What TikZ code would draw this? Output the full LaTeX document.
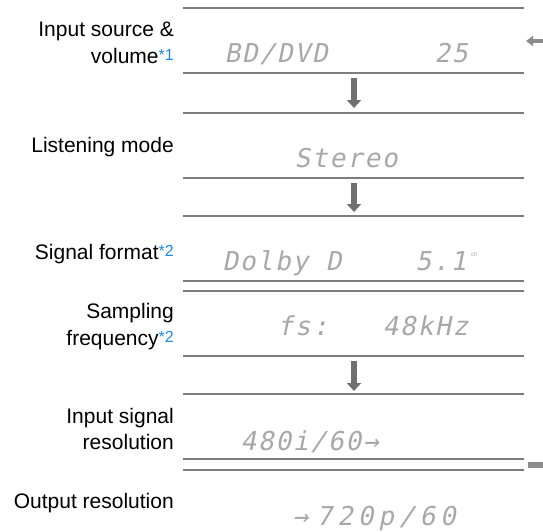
\documentclass[tikz,border=0pt]{standalone}
\usepackage{fontspec}
\setmainfont{Liberation Sans}
\newfontfamily\lcd[FakeSlant=0.2,LetterSpace=7.1]{DejaVu Sans Mono}
\usetikzlibrary{arrows.meta}
\definecolor{rulec}{RGB}{125,125,125}
\definecolor{arrc}{RGB}{112,112,112}
\definecolor{lcdc}{RGB}{168,168,168}
\definecolor{notec}{RGB}{25,135,245}
\definecolor{sidec}{RGB}{140,140,140}
\newcommand{\fnote}[1]{\textcolor{notec}{\raisebox{3pt}{\fontsize{16}{16}\selectfont *#1}}}
\begin{document}
\begin{tikzpicture}[x=1pt,y=-1pt,
  lbl/.style={anchor=base east, inner sep=0pt, font=\fontsize{21}{26}\selectfont},
  disp/.style={anchor=base west, inner sep=0pt, text=lcdc, font=\lcd\fontsize{26}{26}\selectfont},
  rulel/.style={draw=rulec, line width=1.4pt},
  downarrow/.style={draw=arrc, line width=5.5pt, -{Triangle[width=14pt,length=8pt]}},
  sidearrow/.style={draw=sidec, line width=4.5pt, -{Triangle[width=10pt,length=7pt]}}]
\useasboundingbox (0,0) rectangle (543,531);

% horizontal rules
\foreach \y in {8,73,113,178,216,281,291,356,394,459,470}
  \draw[rulel] (183,\y) -- (524,\y);

% labels
\node[lbl] (l1a) at (174,36) {Input source \&};
\node[lbl] (l1b) at (174,63) {volume\fnote{1}};
\node[lbl] (l2) at (174,152) {Listening mode};
\node[lbl] (l3) at (174,259) {Signal format\fnote{2}};
\node[lbl] (l4a) at (174,318) {Sampling};
\node[lbl] (l4b) at (174,345) {frequency\fnote{2}};
\node[lbl] (l5a) at (174,423) {Input signal};
\node[lbl] (l5b) at (174,449) {resolution};
\node[lbl] (l6) at (174,508) {Output resolution};

% display texts
\node[disp] (d1a) at (224.5,62) {BD/DVD};
\node[disp] (d1b) at (434.5,62) {25};
\node[disp] (d2) at (294.5,167) {Stereo};
\node[disp] (d3a) at (222.5,270) {Dolby D};
\node[disp] (d3b) at (415.5,270) {5.1};
\node[anchor=base west, inner sep=0pt, text=lcdc, font=\fontsize{6}{6}\selectfont] (d3c) at (471,256) {ch};
\node[disp] (d4a) at (277.5,335) {fs:};
\node[disp] (d4b) at (382.5,335) {48kHz};
\node[disp] (d5) at (240.5,450) {480i/60→};
\node[disp] (d6a) at (292.5,525) {→};
\node[disp, font=\lcd\fontsize{26}{26}\selectfont\addfontfeature{LetterSpace=19}] (d6b) at (316.5,525) {720p/60};

% flow arrows
\coordinate (a1s) at (354,78);  \coordinate (a1e) at (354,108);
\coordinate (a2s) at (354,183); \coordinate (a2e) at (354,212);
\coordinate (a3s) at (354,361); \coordinate (a3e) at (354,391);
\draw[downarrow] (a1s) -- (a1e);
\draw[downarrow] (a2s) -- (a2e);
\draw[downarrow] (a3s) -- (a3e);

% side markers
\coordinate (s1s) at (543,41); \coordinate (s1e) at (526,41);
\draw[sidearrow] (s1s) -- (s1e);
\fill[sidec] (528,462) rectangle (543,468);
\end{tikzpicture}
\end{document}
